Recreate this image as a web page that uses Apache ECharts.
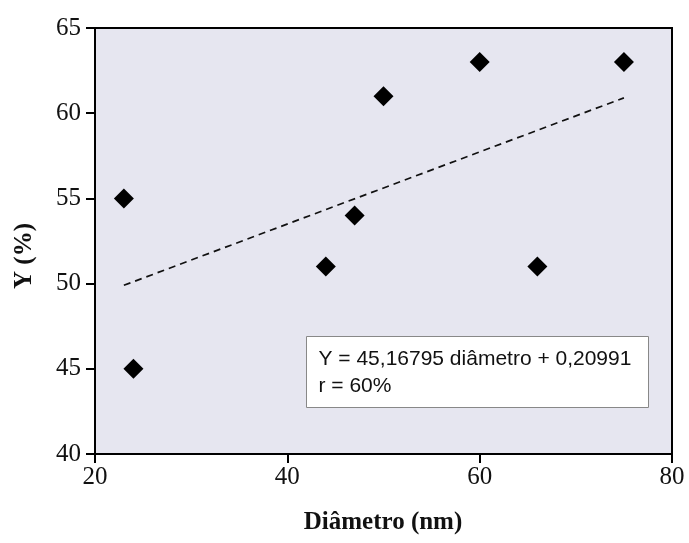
<!DOCTYPE html>
<html>
<head>
<meta charset="utf-8">
<script src="https://cdn.jsdelivr.net/npm/echarts@6/dist/echarts.min.js"></script>
<style>
  html, body { margin: 0; padding: 0; background: #fff; }
  #main { width: 689px; height: 543px; }
</style>
</head>
<body>
<div id="main"></div>
<script>
// pontos medidos
var diametro = [23, 24, 44, 47, 50, 60, 66, 75];
var rendimento = [55, 45, 51, 54, 61, 63, 51, 63];
// reta de tendência (extremos)
var trendX = [23, 75];
var trendY = [49.9, 60.9];
var xTicks = [20, 40, 60, 80];
var yTicks = [40, 45, 50, 55, 60, 65];
var eqText = ['Y = 45,16795 diâmetro + 0,20991', 'r = 60%'];

var myChart = echarts.init(document.getElementById('main'));

var serif = '"Liberation Serif", "Times New Roman", serif';

var option = {
    animation: false,
    grid: {
        left: 95, top: 28, right: 17, bottom: 89,
        show: true,
        backgroundColor: '#e6e6f0',
        borderColor: '#000',
        borderWidth: 2
    },
    xAxis: {
        type: 'value',
        min: xTicks[0], max: xTicks[xTicks.length - 1], interval: 20,
        splitLine: { show: false },
        axisLine: { lineStyle: { color: '#000', width: 2 } },
        axisTick: { length: 9, lineStyle: { color: '#000', width: 2 } },
        axisLabel: { color: '#111', fontFamily: serif, fontSize: 25, margin: 11 }
    },
    yAxis: {
        type: 'value',
        min: yTicks[0], max: yTicks[yTicks.length - 1], interval: 5,
        splitLine: { show: false },
        axisLine: { lineStyle: { color: '#000', width: 2 } },
        axisTick: { length: 9, lineStyle: { color: '#000', width: 2 } },
        axisLabel: { color: '#111', fontFamily: serif, fontSize: 25, margin: 14 }
    },
    graphic: [
        {
            type: 'text', x: 383, y: 523,
            style: { text: 'Diâmetro (nm)', font: 'bold 25px ' + serif, fill: '#111',
                     textAlign: 'center', textVerticalAlign: 'middle' }
        },
        {
            type: 'text', x: 25, y: 256, rotation: Math.PI / 2,
            style: { text: 'Y (%)', font: 'bold 25px ' + serif, fill: '#111',
                     textAlign: 'center', textVerticalAlign: 'middle' }
        },
        {
            type: 'group', left: 306, top: 336,
            children: [
                { type: 'rect', shape: { x: 0, y: 0, width: 342, height: 71 },
                  style: { fill: '#fff', stroke: '#888', lineWidth: 1 } },
                { type: 'text', x: 12, y: 9,
                  style: { text: eqText.join('\n'), font: '21px "Liberation Sans", Arial, sans-serif',
                           lineHeight: 27, fill: '#111' } }
            ]
        }
    ],
    series: [
        {
            type: 'line',
            data: trendX.map(function (x, i) { return [x, trendY[i]]; }),
            symbol: 'none',
            lineStyle: { color: '#111', width: 1.7, type: [7, 5] },
            z: 2
        },
        {
            type: 'scatter',
            data: diametro.map(function (x, i) { return [x, rendimento[i]]; }),
            symbol: 'diamond',
            symbolSize: [20, 20],
            itemStyle: { color: '#000', opacity: 1 },
            z: 3
        }
    ]
};

myChart.setOption(option);
</script>
</body>
</html>
